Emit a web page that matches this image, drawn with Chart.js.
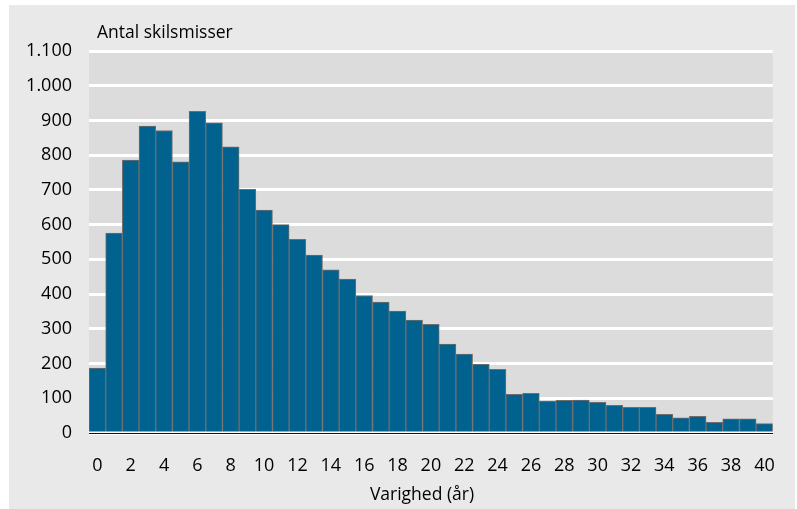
<!DOCTYPE html>
<html>
<head>
<meta charset="utf-8">
<script src="https://cdn.jsdelivr.net/npm/chart.js@4"></script>
<style>
  body { margin: 0; background: #fff; }
  #frame { position: absolute; left: 9px; top: 5px; width: 786px; height: 504px; background: #e9e9e9; }
  #wrap { position: absolute; left: 0; top: 0; width: 797px; height: 509px; }
</style>
</head>
<body>
<div id="frame"></div>
<div id="wrap"><canvas id="myChart" width="797" height="509"></canvas></div>
<script>
var years = [];
for (var i = 0; i <= 40; i++) years.push(String(i));

var divorces = [187, 576, 786, 884, 871, 781, 926, 893, 824, 702,
                642, 600, 558, 512, 470, 443, 396, 377, 351, 325,
                313, 256, 227, 198, 183, 111, 114, 92, 94, 95,
                88, 80, 74, 74, 54, 44, 48, 31, 41, 41, 27];

var yTicks = [0, 100, 200, 300, 400, 500, 600, 700, 800, 900, 1000, 1100];

var fontFamily = '"Open Sans", sans-serif';

function dotThousands(v) {
    return String(v).replace(/\B(?=(\d{3})+(?!\d))/g, '.');
}

var plotBg = {
    id: 'plotBg',
    beforeDraw: function (chart) {
        var a = chart.chartArea;
        var ctx = chart.ctx;
        ctx.save();
        ctx.fillStyle = '#dcdcdc';
        ctx.fillRect(a.left, a.top, a.right - a.left, a.bottom - a.top);
        ctx.restore();
    }
};

// axis captions, placed like in the original
var captions = {
    id: 'captions',
    afterDraw: function (chart) {
        var ctx = chart.ctx;
        ctx.save();
        ctx.fillStyle = '#000';
        ctx.font = '17.5px ' + fontFamily;
        ctx.textBaseline = 'alphabetic';
        ctx.textAlign = 'left';
        ctx.fillText('Antal skilsmisser', 97, 38);
        ctx.textAlign = 'center';
        ctx.fillText('Varighed (år)', 422, 500);
        ctx.restore();
    }
};

var testChart = new Chart('myChart', {
    type: 'bar',
    data: {
        labels: years,
        datasets: [{
            label: 'Antal skilsmisser',
            data: divorces,
            backgroundColor: '#02628f',
            borderColor: '#6e6e6e',
            borderWidth: 1,
            barPercentage: 1,
            categoryPercentage: 1
        }]
    },
    options: {
        responsive: false,
        animation: false,
        layout: {
            padding: { left: 0, top: 51, right: 23, bottom: 0 }
        },
        plugins: {
            legend: { display: false },
            tooltip: { enabled: false }
        },
        scales: {
            x: {
                grid: { display: false, drawTicks: false },
                border: { color: '#111', width: 1 },
                ticks: {
                    color: '#000',
                    font: { family: fontFamily, size: 18 },
                    autoSkip: false,
                    maxRotation: 0,
                    padding: 22,
                    callback: function (val, idx) {
                        return idx % 2 === 0 ? this.getLabelForValue(val) : '';
                    }
                },
                afterFit: function (scale) { scale.height = 76; }
            },
            y: {
                min: 0,
                max: 1100,
                afterBuildTicks: function (scale) {
                    scale.ticks = yTicks.map(function (v) { return { value: v }; });
                },
                grid: { color: '#ffffff', lineWidth: 3, drawTicks: false },
                border: { display: false },
                ticks: {
                    color: '#000',
                    font: { family: fontFamily, size: 18 },
                    padding: 17,
                    callback: function (v) { return dotThousands(v); }
                },
                afterFit: function (scale) { scale.width = 89; }
            }
        }
    },
    plugins: [plotBg, captions]
});
</script>
</body>
</html>
